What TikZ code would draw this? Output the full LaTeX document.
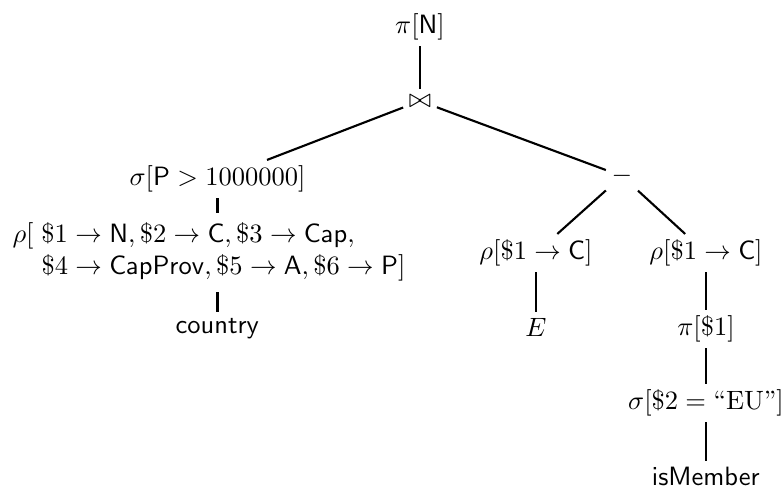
\documentclass[tikz,border=0pt]{standalone}
\usepackage{amsmath}
\begin{document}
\begin{tikzpicture}[x=0.3774pt,y=-0.3774pt,
  op/.style={inner sep=2pt, anchor=center},
  edge/.style={line width=0.8pt}]
\path[use as bounding box] (0,0) rectangle (782,487);
\node[op] (pi) at (420,27) {$\pi[\mathsf{N}]$};
\node[op] (join) at (420,101) {$\bowtie$};
\node[op] (sel) at (217.5,179) {$\sigma[\mathsf{P} > 1000000]$};
\node[op, anchor=north west, inner sep=0pt] (ren) at (12,219.5) {\begin{tabular}{@{}l@{\hspace{3pt}}l@{}}$\rho[$ & $\$1 \to \mathsf{N}, \$2 \to \mathsf{C}, \$3 \to \mathsf{Cap},$\\ & $\$4 \to \mathsf{CapProv}, \$5 \to \mathsf{A}, \$6 \to \mathsf{P}]$\end{tabular}};
\node[op] (country) at (217.5,328) {$\mathsf{country}$};
\node[op] (minus) at (622,176) {$-$};
\node[op] (r1) at (536,253) {$\rho[\$1 \to \mathsf{C}]$};
\node[op] (E) at (536,327) {$E$};
\node[op] (r2) at (706,253) {$\rho[\$1 \to \mathsf{C}]$};
\node[op] (p1) at (706,329) {$\pi[\$1]$};
\node[op] (s2) at (706,403) {$\sigma[\$2 = \mbox{``EU''}]$};
\node[op] (ism) at (706,476.5) {$\mathsf{isMember}$};
\draw[edge] (pi) -- (join);
\draw[edge] (join) -- (sel);
\draw[edge] (join) -- (minus);
\draw[edge, shorten >=2.5pt] (sel.south) -- (sel.south |- ren.north);
\draw[edge, shorten <=3pt] (sel.south |- ren.south) -- (country.north);
\draw[edge] (minus) -- (r1);
\draw[edge] (minus) -- (r2);
\draw[edge] (r1) -- (E);
\draw[edge] (r2) -- (p1);
\draw[edge] (p1) -- (s2);
\draw[edge] (s2) -- (ism);
\end{tikzpicture}
\end{document}
